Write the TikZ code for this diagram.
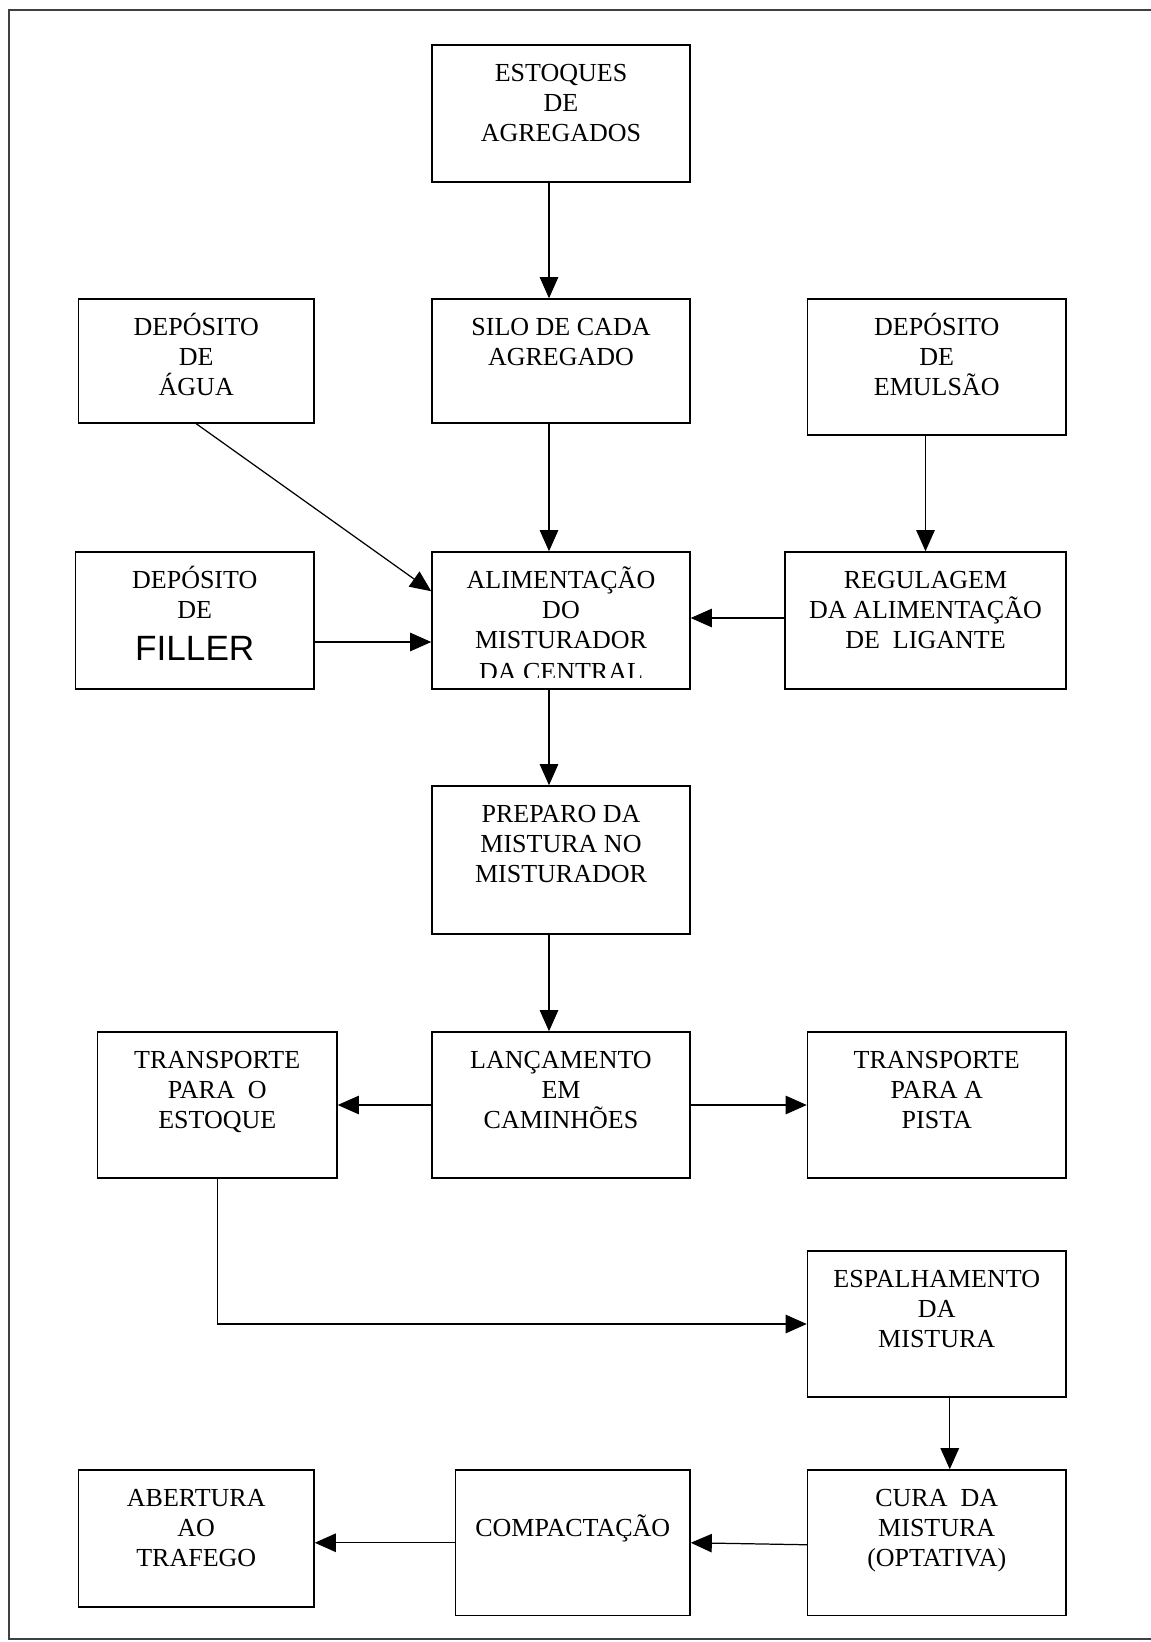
\documentclass[tikz,border=0pt]{standalone}
\usepackage{fontspec}
\setmainfont{Liberation Serif}
\newfontfamily\arialf{Liberation Sans}
\usetikzlibrary{arrows.meta,calc}
\newcommand{\fstrut}{\rule{0pt}{0.73cm}}
\newcommand{\sstrut}{\rule{0pt}{1.34cm}}
\begin{document}
\begin{tikzpicture}[x=0.02cm,y=-0.02cm,
  box/.style 2 args={draw, line width=0.85pt, inner sep=0pt, minimum width=#1*0.02cm, minimum height=#2*0.02cm},
  txt/.style={anchor=north, inner sep=0pt, align=center, font=\fontsize{14.8pt}{17.24pt}\selectfont},
  arr/.style={line width=0.7pt, -{Triangle[length=12pt,width=10.5pt]}},
  outerframe/.style={line width=1pt, draw=black!75}]
\useasboundingbox (0,0) rectangle (1150,1642);
\draw[outerframe] (1152,10) -- (9,10) -- (9,1639) -- (1152,1639);

% boxes
\node[box={258}{137}] (est) at (561,113.5) {};
\node[box={235.5}{124}] (agua) at (196.25,361) {};
\node[box={258}{124}] (silo) at (561,361) {};
\node[box={258.5}{136}] (emul) at (936.75,367) {};
\node[box={238.5}{137}] (fill) at (194.75,620.5) {};
\node[box={258}{137}] (alim) at (561,620.5) {};
\node[box={281}{137}] (reg) at (925.5,620.5) {};
\node[box={258}{148}] (prep) at (561,860) {};
\node[box={239.5}{146}] (trest) at (217.25,1105) {};
\node[box={258}{146}] (lanc) at (561,1105) {};
\node[box={258.5}{146}] (trpis) at (936.75,1105) {};
\node[box={258.5}{146}] (esp) at (936.75,1324) {};
\node[box={235.5}{137}] (abert) at (196.25,1538.5) {};
\node[box={234.5}{145.5}] (comp) at (572.75,1542.75) {};
\node[box={258.5}{145.5}] (cura) at (936.75,1542.75) {};

% texts
\node[txt] (test) at (est.north) {\fstrut ESTOQUES\\DE\\AGREGADOS};
\node[txt] (tagua) at (agua.north) {\fstrut DEPÓSITO\\DE\\ÁGUA};
\node[txt] (tsilo) at (silo.north) {\fstrut SILO DE CADA\\AGREGADO};
\node[txt] (temul) at (emul.north) {\fstrut DEPÓSITO\\DE\\EMULSÃO};
\node[txt] (tfill) at (fill.north) {\fstrut DEPÓSITO\\DE\\[6.8pt]{\arialf\fontsize{20pt}{24pt}\selectfont FILLER}};
\begin{scope}
\clip (alim.north west) rectangle ($(alim.south east)+(0,-12)$);
\node[txt] (talim) at (alim.north) {\fstrut ALIMENTAÇÃO\\DO\\MISTURADOR\\[1pt]DA CENTRAL};
\end{scope}
\node[txt] (treg) at (reg.north) {\fstrut REGULAGEM\\DA ALIMENTAÇÃO\\DE~ LIGANTE};
\node[txt] (tprep) at (prep.north) {\fstrut PREPARO DA\\MISTURA NO\\MISTURADOR};
\node[txt] (ttrest) at (trest.north) {\fstrut TRANSPORTE\\PARA~ O\\ESTOQUE};
\node[txt] (tlanc) at (lanc.north) {\fstrut LANÇAMENTO\\EM\\CAMINHÕES};
\node[txt] (ttrpis) at (trpis.north) {\fstrut TRANSPORTE\\PARA A\\PISTA};
\node[txt] (tesp) at (esp.north) {\fstrut ESPALHAMENTO\\DA\\MISTURA};
\node[txt] (tabert) at (abert.north) {\fstrut ABERTURA\\AO\\TRAFEGO};
\node[txt] (tcomp) at (comp.north) {\sstrut COMPACTAÇÃO};
\node[txt] (tcura) at (cura.north) {\fstrut CURA~ DA\\MISTURA\\(OPTATIVA)};

% connectors
\draw[arr] ($(est.south)+(-12,0)$) -- ($(silo.north)+(-12,0)$);
\draw[arr] ($(silo.south)+(-12,0)$) -- ($(alim.north)+(-12,0)$);
\draw[arr] (agua.south) -- ($(alim.north west)+(0,40)$);
\draw[arr] ($(fill.east)+(0,21.5)$) -- ($(alim.west)+(0,21.5)$);
\draw[arr] (emul.south -| reg.north) -- (reg.north);
\draw[arr] ($(reg.west)+(0,-2.5)$) -- ($(alim.east)+(0,-2.5)$);
\draw[arr] ($(alim.south)+(-12,0)$) -- ($(prep.north)+(-12,0)$);
\draw[arr] ($(prep.south)+(-12,0)$) -- ($(lanc.north)+(-12,0)$);
\draw[arr] (lanc.west) -- (trest.east);
\draw[arr] (lanc.east) -- (trpis.west);
\draw[arr] (trest.south) |- (esp.west);
\draw[arr] ($(esp.south)+(13,0)$) -- ($(cura.north)+(13,0)$);
\draw[arr] ($(cura.west)+(0,2)$) -- (comp.east);
\draw[arr] (comp.west) -- (comp.west -| abert.east);
\end{tikzpicture}
\end{document}
